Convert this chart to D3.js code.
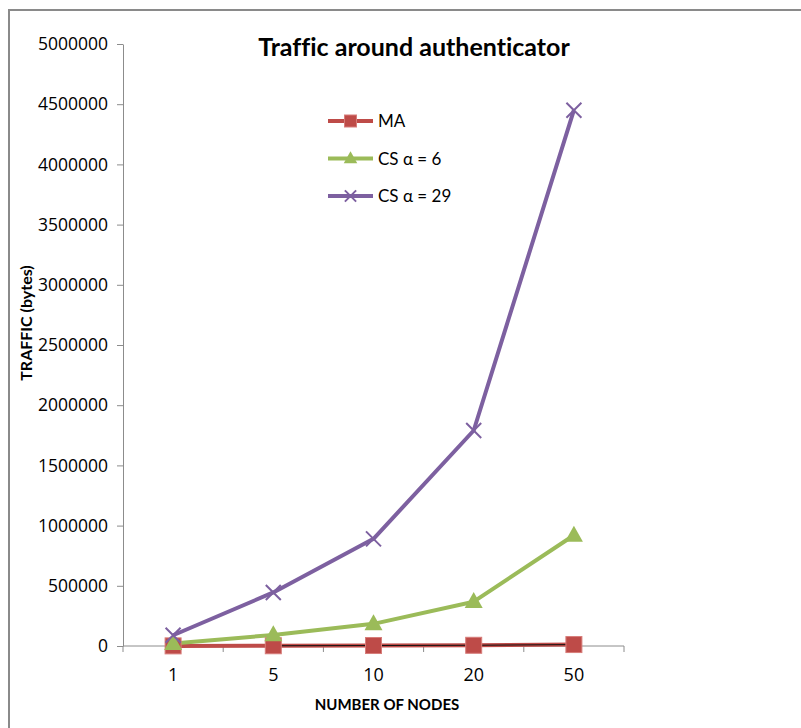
<!DOCTYPE html>
<html>
<head>
<meta charset="utf-8">
<script src="https://cdn.jsdelivr.net/npm/d3@7"></script>
<style>
  html, body { margin: 0; padding: 0; background: #ffffff; }
  svg { display: block; }
  text { font-family: Lato, "Open Sans", sans-serif; fill: #000; font-variant-ligatures: none; }
</style>
</head>
<body>
<svg id="chart" width="801" height="728"></svg>
<script>
// Number of nodes on the x axis
const nodes = ["1", "5", "10", "20", "50"];
// Traffic around the authenticator, bytes
const trafficMA = [1000, 2000, 4000, 6000, 12000];
const trafficCS6 = [20000, 92000, 184000, 368000, 920000];
const trafficCS29 = [89000, 445000, 890000, 1790000, 4450000];
const yTicks = [0, 500000, 1000000, 1500000, 2000000, 2500000, 3000000, 3500000, 4000000, 4500000, 5000000];

const series = [
  { name: "MA", values: trafficMA, color: "#BE4B48", marker: "square" },
  { name: "CS \u03b1 = 6", values: trafficCS6, color: "#9BBB59", marker: "triangle" },
  { name: "CS \u03b1 = 29", values: trafficCS29, color: "#7D60A0", marker: "cross" }
];

const svg = d3.select("#chart");

// chart frame
svg.append("rect")
  .attr("x", 9).attr("y", 10).attr("width", 820).attr("height", 740)
  .attr("fill", "#fff").attr("stroke", "#8a8a8a").attr("stroke-width", 2);

const plot = { left: 123, right: 624, top: 44, bottom: 646 };

const x = d3.scaleBand().domain(nodes).range([plot.left, plot.right]).padding(0);
const y = d3.scaleLinear().domain([0, 5000000]).range([plot.bottom, plot.top]);

// y axis
const yAxis = svg.append("g")
  .attr("transform", `translate(${plot.left},0)`)
  .call(d3.axisLeft(y).tickValues(yTicks).tickFormat(d3.format("d")).tickSize(6).tickSizeOuter(0).tickPadding(9));
yAxis.select(".domain").attr("stroke", "#8c8c8c");
yAxis.selectAll(".tick line").attr("stroke", "#8c8c8c");
yAxis.selectAll("text")
  .style("font-size", "17.5px")
  .style("font-family", "'Open Sans', sans-serif")
  .attr("fill", "#000");

// x axis with tick marks at category boundaries
const xAxis = svg.append("g").attr("transform", `translate(0,${plot.bottom})`);
xAxis.append("line")
  .attr("x1", plot.left).attr("x2", plot.right)
  .attr("stroke", "#8c8c8c");
const bounds = nodes.map(n => x(n)).concat([plot.right]);
xAxis.selectAll("line.tk").data(bounds).join("line")
  .attr("class", "tk")
  .attr("x1", d => d).attr("x2", d => d).attr("y1", 0).attr("y2", 6)
  .attr("stroke", "#8c8c8c");
xAxis.selectAll("text").data(nodes).join("text")
  .attr("x", d => x(d) + x.bandwidth() / 2)
  .attr("y", 35)
  .attr("text-anchor", "middle")
  .style("font-size", "18px")
  .style("font-family", "'Open Sans', sans-serif")
  .text(d => d);

const cx = d => x(d) + x.bandwidth() / 2;

// series lines
const line = d3.line().x((d, i) => cx(nodes[i])).y(d => y(d));
series.forEach(s => {
  svg.append("path")
    .datum(s.values)
    .attr("d", line)
    .attr("fill", "none")
    .attr("stroke", s.color)
    .attr("stroke-width", 4)
    .attr("stroke-linejoin", "round");
});

// thin dark trace along the MA series
svg.append("path")
  .datum(trafficMA.slice(1))
  .attr("d", d3.line().x((d, i) => cx(nodes[i + 1])).y(d => y(d)))
  .attr("fill", "none").attr("stroke", "#111").attr("stroke-width", 1);

function drawMarker(g, type, color, px, py, scale) {
  const k = scale || 1;
  if (type === "square") {
    g.append("rect")
      .attr("x", px - 8 * k).attr("y", py - 8 * k)
      .attr("width", 16 * k).attr("height", 16 * k)
      .attr("fill", color).attr("stroke", "#d77d7a").attr("stroke-width", 1);
  } else if (type === "triangle") {
    const h = 16 * k, w = 18 * k;
    g.append("path")
      .attr("d", `M${px},${py - h * 0.6}L${px + w / 2},${py + h * 0.4}L${px - w / 2},${py + h * 0.4}Z`)
      .attr("fill", color);
  } else {
    const r = 7.5 * k;
    g.append("path")
      .attr("d", `M${px - r},${py - r}L${px + r},${py + r}M${px - r},${py + r}L${px + r},${py - r}`)
      .attr("stroke", color).attr("stroke-width", 2).attr("fill", "none");
  }
}

// markers
series.forEach(s => {
  const g = svg.append("g");
  s.values.forEach((v, i) => drawMarker(g, s.marker, s.color, cx(nodes[i]), y(v)));
});

// legend
const legend = svg.append("g");
series.forEach((s, i) => {
  const ly = 121 + i * 37.5;
  legend.append("line")
    .attr("x1", 328).attr("x2", 373).attr("y1", ly).attr("y2", ly)
    .attr("stroke", s.color).attr("stroke-width", 4);
  drawMarker(legend, s.marker, s.color, 350.5, ly, 0.75);
  legend.append("text")
    .attr("x", 378).attr("y", ly + 6)
    .style("font-size", "17px")
    .text(s.name);
});

// title
svg.append("text")
  .attr("x", 414).attr("y", 56)
  .attr("text-anchor", "middle")
  .style("font-size", "25px").style("font-weight", "bold")
  .text("Traffic around authenticator");

// axis titles
svg.append("text")
  .attr("x", 387).attr("y", 710)
  .attr("text-anchor", "middle")
  .style("font-size", "15px").style("font-weight", "bold")
  .text("NUMBER OF NODES");

svg.append("text")
  .attr("transform", "translate(32,323) rotate(-90)")
  .attr("text-anchor", "middle")
  .style("font-size", "16px").style("font-weight", "bold")
  .text("TRAFFIC (bytes)");
</script>
</body>
</html>
